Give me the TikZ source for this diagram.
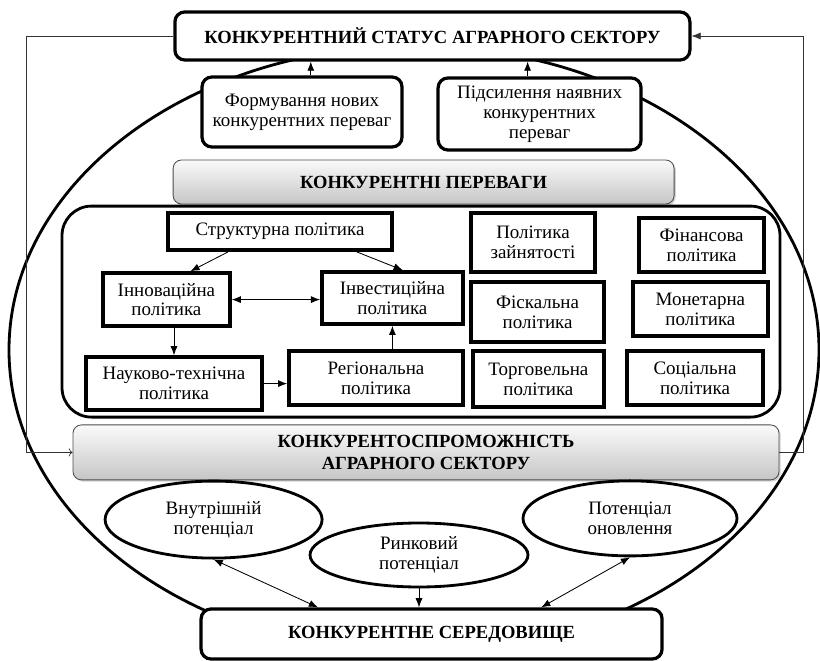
\documentclass[tikz,border=0pt]{standalone}
\usepackage{fontspec}
\setmainfont{Liberation Serif}
\usetikzlibrary{shapes.geometric, arrows.meta, shadows}
\begin{document}
\begin{tikzpicture}[
    wh/.style 2 args={minimum width=#1cm, minimum height=#2cm},
    boxStyle/.style={draw, fill=white, align=center, inner sep=0pt, font=\fontsize{13.5}{14.2}\selectfont},
    policyStyle/.style={boxStyle, line width=2.6pt},
    roundStyle/.style={boxStyle, line width=2.3pt, rounded corners=7pt},
    headStyle/.style={roundStyle, font=\bfseries\fontsize{13.2}{15.6}\selectfont},
    grayStyle/.style={draw=black!70, line width=0.6pt, rounded corners=6pt, top color=gray!4, bottom color=gray!45,
        drop shadow={opacity=0.35, shadow xshift=1.2pt, shadow yshift=-1.2pt},
        align=center, inner sep=0pt, font=\bfseries\fontsize{13.2}{15.6}\selectfont},
    ellStyle/.style={ellipse, draw, fill=white, line width=2pt, inner sep=0pt, align=center, font=\fontsize{13.5}{14.2}\selectfont},
    arrowStyle/.style={line width=0.6pt, -{Latex[length=6.5pt, width=5pt]}},
    twoStyle/.style={line width=0.6pt, {Latex[length=6.5pt, width=5pt]}-{Latex[length=6.5pt, width=5pt]}}]
    \useasboundingbox (0, 0) rectangle (20.5, -16.525);

    \draw[line width=2pt] (10.35, -8.75) ellipse [x radius=10.125, y radius=7.6];

    \node[headStyle, wh={12.875}{1.2}](status) at (10.81, -0.9) {КОНКУРЕНТНИЙ СТАТУС АГРАРНОГО СЕКТОРУ};
    \node[roundStyle, wh={5}{1.75}](form) at (7.55, -2.8) {Формування нових\\конкурентних переваг};
    \node[roundStyle, wh={5.075}{1.8}](pids) at (13.49, -2.85) {Підсилення наявних\\конкурентних\\переваг};
    \node[grayStyle, wh={12.525}{1.1}](adv) at (10.59, -4.55) {КОНКУРЕНТНІ ПЕРЕВАГИ};

    \node[draw, line width=2pt, rounded corners=21pt, wh={17.95}{5.275}](panel) at (10.525, -7.79) {};
    \node[policyStyle, wh={5.6}{0.925}](struct) at (7.0, -5.79) {Структурна політика};
    \node[policyStyle, wh={3.175}{1.325}](innov) at (4.16, -7.49) {Інноваційна\\політика};
    \node[policyStyle, wh={3.525}{1.3}](invest) at (9.81, -7.45) {Інвестиційна\\політика};
    \node[policyStyle, wh={4.4}{1.325}](nauk) at (4.35, -9.59) {Науково-технічна\\політика};
    \node[policyStyle, wh={4.35}{1.35}](region) at (9.4, -9.45) {Регіональна\\політика};
    \node[policyStyle, wh={3.1}{1.475}](zain) at (13.325, -6.06) {Політика\\зайнятості};
    \node[policyStyle, wh={3.325}{1.5}](fisk) at (13.44, -7.8) {Фіскальна\\політика};
    \node[policyStyle, wh={3.275}{1.4}](torg) at (13.46, -9.475) {Торговельна\\політика};
    \node[policyStyle, wh={3.125}{1.35}](fin) at (17.54, -6.125) {Фінансова\\політика};
    \node[policyStyle, wh={3.375}{1.35}](monet) at (17.51, -7.725) {Монетарна\\політика};
    \node[policyStyle, wh={3.4}{1.35}](social) at (17.375, -9.45) {Соціальна\\політика};

    \node[grayStyle, wh={17.65}{1.375}](kspr) at (10.65, -11.31) {КОНКУРЕНТОСПРОМОЖНІСТЬ\\АГРАРНОГО СЕКТОРУ};

    \node[ellStyle, wh={5.425}{1.925}](vnutr) at (5.34, -12.99) {Внутрішній\\потенціал};
    \node[ellStyle, wh={5.45}{1.6}](rynk) at (10.475, -13.875) {Ринковий\\потенціал};
    \node[ellStyle, wh={5.35}{1.875}](onov) at (15.75, -12.96) {Потенціал\\оновлення};
    \node[headStyle, wh={11.525}{1.25}](envir) at (10.79, -15.85) {КОНКУРЕНТНЕ СЕРЕДОВИЩЕ};

    \coordinate (lcorner) at (0.65, -11.31);
    \coordinate (rcorner) at (20.075, -0.9);

    \draw[arrowStyle] ([xshift=0.22cm]form.north) -- ([xshift=0.22cm]form.north |- status.south);
    \draw[arrowStyle] ([xshift=-0.3cm]pids.north) -- ([xshift=-0.3cm]pids.north |- status.south);
    \draw[arrowStyle] ([xshift=-1.3cm]struct.south) -- ([xshift=0.6cm]innov.north);
    \draw[arrowStyle] ([xshift=1.92cm]struct.south) -- ([xshift=0.26cm]invest.north);
    \draw[twoStyle] (innov.east) -- (innov.east -| invest.west);
    \draw[arrowStyle] (nauk.north |- innov.south) -- (nauk.north);
    \draw[arrowStyle] (nauk.east) -- (nauk.east -| region.west);
    \draw[arrowStyle] (invest.south |- region.north) -- (invest.south);
    \draw[twoStyle] (vnutr.south) -- ([xshift=-2.84cm]envir.north);
    \draw[arrowStyle] (rynk.south) -- (rynk.south |- envir.north);
    \draw[twoStyle] (onov.south) -- ([xshift=2.74cm]envir.north);
    \draw[line width=0.5pt, black!80, ->] (status.west) -| (lcorner) -- (kspr.west);
    \draw[line width=0.5pt, black!80, -{Latex[length=6.5pt, width=5pt]}] (kspr.east) -| (rcorner) -- (status.east);
\end{tikzpicture}
\end{document}
